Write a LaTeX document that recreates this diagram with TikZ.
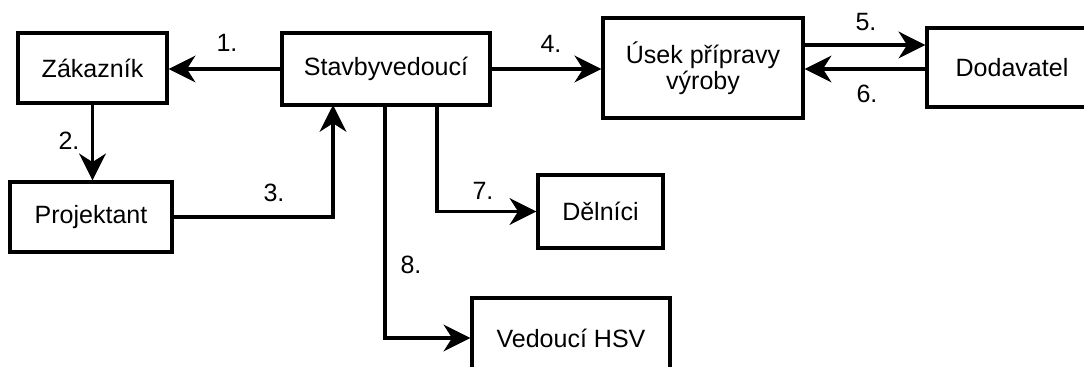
\documentclass[tikz,border=0pt]{standalone}
\usepackage{fontspec}
\setmainfont{Liberation Sans}
\usetikzlibrary{arrows.meta}

\tikzset{
    blok/.style = {draw, line width = 2.35pt, align = center, inner sep = 0pt,
        font = \fontsize{17.8}{18.5}\selectfont},
    cislo/.style = {inner sep = 0pt, font = \fontsize{17.8}{18.5}\selectfont},
    tok/.style = {->, line width = 2.35pt}
}

\begin{document}
\begin{tikzpicture}[> = {Stealth[length = 19pt, width = 19pt, inset = 6pt]},
    x = 0.025cm, y = -0.025cm]

        \clip (0, 0) rectangle (1084, 367);

        % Positions for all of the boxes.
        \coordinate (ZAK) at (92.5, 68);
        \coordinate (PROJ) at (91, 217);
        \coordinate (STAV) at (386, 69);
        \coordinate (USEK) at (703, 68);
        \coordinate (DOD) at (1012, 67.5);
        \coordinate (DEL) at (600.5, 211.5);
        \coordinate (HSV) at (571, 338);

        % Where the lines leave or reach the bottom of the site manager box.
        \coordinate (T3) at (333, 105);
        \coordinate (T7) at (437, 105);
        \coordinate (T8) at (385, 105);

        % The boxes.
        \node[blok, minimum width = 3.725cm, minimum height = 1.75cm] (zak) at (ZAK) {Zákazník};
        \node[blok, minimum width = 4.05cm, minimum height = 1.75cm] (proj) at (PROJ) {Projektant};
        \node[blok, minimum width = 5.2cm, minimum height = 1.8cm] (stav) at (STAV) {Stavbyvedoucí};
        \node[blok, minimum width = 5.0cm, minimum height = 2.5cm] (usek) at (USEK) {Úsek přípravy\\výroby};
        \node[blok, minimum width = 4.25cm, minimum height = 1.975cm] (dod) at (DOD) {Dodavatel};
        \node[blok, minimum width = 3.125cm, minimum height = 1.825cm] (del) at (DEL) {Dělníci};
        \node[blok, minimum width = 4.95cm, minimum height = 2.0cm] (hsv) at (HSV) {Vedoucí HSV};

        % The flows between them.
        \draw[tok] (stav.west) to (stav.west -| zak.east);
        \draw[tok] (zak.south) to (zak.south |- proj.north);
        \draw[tok] (proj.east) -| (T3);
        \draw[tok] (stav.east) to (stav.east -| usek.west);
        \draw[tok] ([yshift = 0.575cm]usek.east) to ([yshift = 0.575cm]usek.east -| dod.west);
        \draw[tok] (dod.west |- stav.east) to (stav.east -| usek.east);
        \draw[tok] (T7) |- (del.west);
        \draw[tok] (T8) |- (hsv.west);

        % Numbers of the flows.
        \node[cislo] (n1) at (227, 43) {1.};
        \node[cislo] (n2) at (69, 141) {2.};
        \node[cislo] (n3) at (274, 193) {3.};
        \node[cislo] (n4) at (551, 44) {4.};
        \node[cislo] (n5) at (866, 22) {5.};
        \node[cislo] (n6) at (867, 94) {6.};
        \node[cislo] (n7) at (483, 191) {7.};
        \node[cislo] (n8) at (411, 265) {8.};
    \end{tikzpicture}
\end{document}
